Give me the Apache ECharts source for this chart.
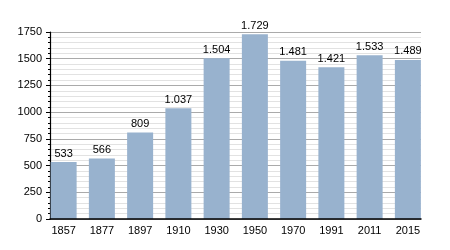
<!DOCTYPE html>
<html><head><meta charset="utf-8">
<script src="https://cdn.jsdelivr.net/npm/echarts@6/dist/echarts.min.js"></script>
<style>html,body{margin:0;padding:0;background:#fff}#c{width:450px;height:250px}</style>
</head><body><div id="c"></div>
<script>
const categories = ['1857','1877','1897','1910','1930','1950','1970','1991','2011','2015'];
const values = [533,566,809,1037,1504,1729,1481,1421,1533,1489];
const yTicks = [0,250,500,750,1000,1250,1500,1750];

const chart = echarts.init(document.getElementById('c'), null, {renderer:'canvas'});
function fmt(v){ return String(v).replace(/\B(?=(\d{3})+(?!\d))/g,'.'); }
const font = 'Liberation Sans, Arial';
const yMin = yTicks[0], yMax = yTicks[yTicks.length-1];
chart.setOption({
  animation:false,
  grid:[
    {left:50,right:29,top:32,bottom:31,containLabel:false},
    {left:44.5,right:23,top:32,bottom:31,containLabel:false}
  ],
  xAxis:[
    {type:'value',gridIndex:0,min:0,max:1,z:10,
      axisLine:{show:true,onZero:false,lineStyle:{color:'#000',width:1.5}},
      axisTick:{show:false},axisLabel:{show:false},splitLine:{show:false},minorTick:{show:false}},
    {type:'category',gridIndex:1,data:categories,
      axisLine:{show:false},axisTick:{show:false},
      axisLabel:{color:'#000',fontSize:11,fontFamily:font,margin:6}}
  ],
  yAxis:[
    {type:'value',gridIndex:0,min:yMin,max:yMax,interval:250,
      axisLine:{show:true,lineStyle:{color:'#000',width:1.2}},
      axisTick:{show:true,inside:false,length:4,lineStyle:{color:'#000'}},
      minorTick:{show:true,splitNumber:5,length:2,lineStyle:{color:'#000'}},
      splitLine:{show:true,lineStyle:{color:'#aaa',width:1}},
      minorSplitLine:{show:true,lineStyle:{color:'#e2e2e2',width:1}},
      axisLabel:{color:'#000',fontSize:11,fontFamily:font,margin:8,formatter:v=>String(v)}},
    {type:'value',gridIndex:1,min:yMin,max:yMax,interval:250,show:false,splitLine:{show:false}}
  ],
  series:[{type:'bar',xAxisIndex:1,yAxisIndex:1,data:values,barWidth:26,
    itemStyle:{color:'#98b2ce'},
    label:{show:true,position:'top',color:'#000',fontSize:11,fontFamily:font,distance:3,
      formatter:p=>fmt(p.value)}}]
});
</script></body></html>
